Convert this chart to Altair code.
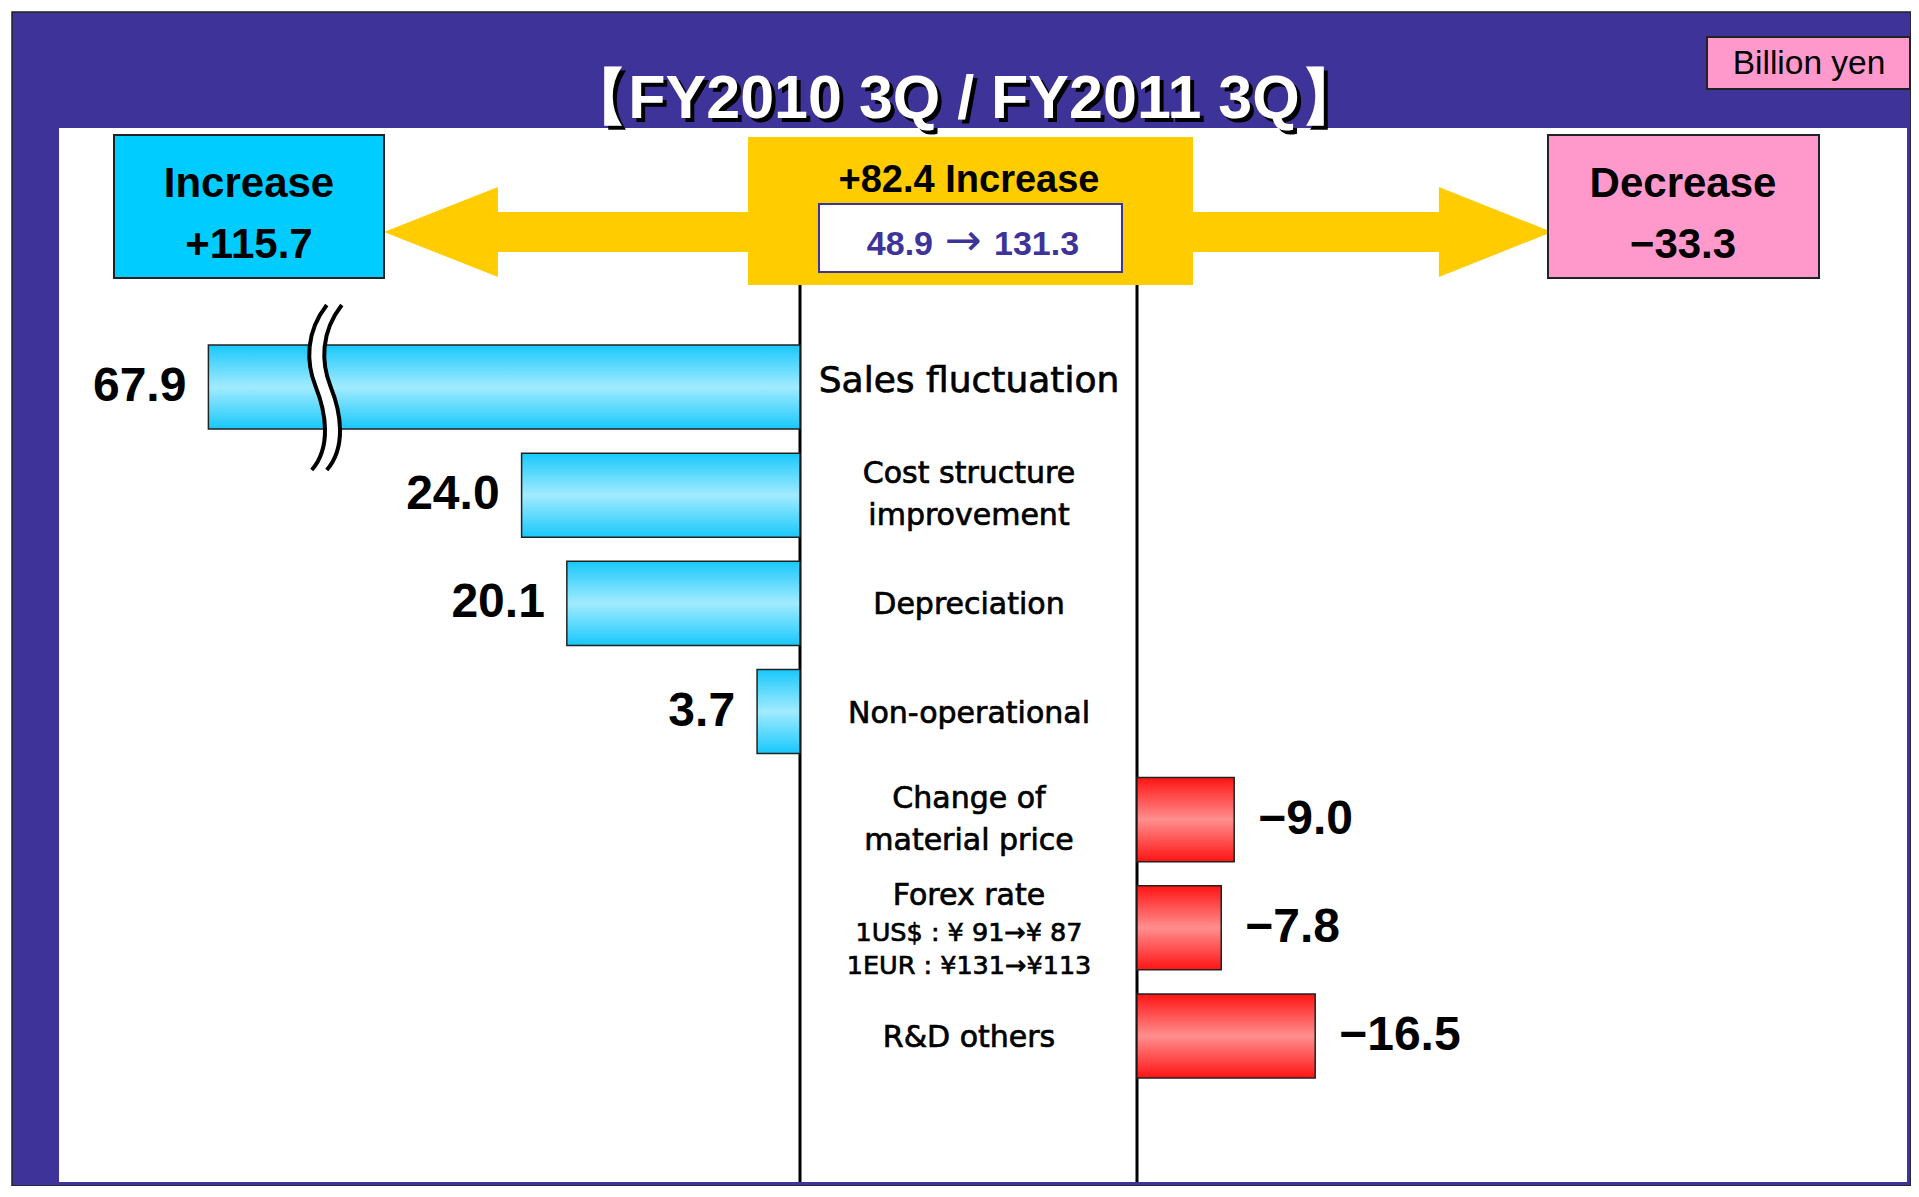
import altair as alt
import pandas as pd

# ---------------- data ----------------
TITLE = "【FY2010 3Q / FY2011 3Q】"
UNIT_LABEL = "Billion yen"

INC_CATEGORIES = ["Sales fluctuation", "Cost structure improvement", "Depreciation", "Non-operational"]
INC_LABELS = ["Sales fluctuation", "Cost structure\nimprovement", "Depreciation", "Non-operational"]
INC_VALUES = [67.9, 24.0, 20.1, 3.7]

DEC_CATEGORIES = ["Change of material price", "Forex rate", "R&D others"]
DEC_LABELS = ["Change of\nmaterial price", "Forex rate", "R&D others"]
DEC_VALUES = [-9.0, -7.8, -16.5]

FOREX_NOTES = ["1US$ : ¥ 91→¥ 87", "1EUR : ¥131→¥113"]

TOTAL_INCREASE = 115.7
TOTAL_DECREASE = -33.3
PROFIT_FROM = 48.9
PROFIT_TO = 131.3
NET_CHANGE = 82.4

# axis break of the longest bar (display cap) and position of the break mark
BROKEN_BAR_CAP = 51.0
BREAK_MARK_AT = 41.4

ALL_CATEGORIES = INC_CATEGORIES + DEC_CATEGORIES

# ---------------- layout / style ----------------
W, H = 1903, 1178
PURPLE = "#3e3399"
YELLOW = "#ffcc00"
CYAN = "#00ccff"
PINK = "#ff99cc"
SANS = "Liberation Sans"
GOTHIC = "DejaVu Sans"

LEFT = alt.Scale(domain=[0, 10], range=[792, 792 - 116], nice=False, zero=True)
RIGHT = alt.Scale(domain=[0, 10], range=[1129, 1129 + 108], nice=False, zero=True)
YS = alt.Scale(domain=ALL_CATEGORIES, range=[337, 1070], paddingInner=0.2225, paddingOuter=0)

BLUE_GRAD = alt.Gradient(
    gradient="linear", x1=0, x2=0, y1=0, y2=1,
    stops=[alt.GradientStop(color="#18c8fb", offset=0),
           alt.GradientStop(color="#a2ebff", offset=0.5),
           alt.GradientStop(color="#18c8fb", offset=1)])
RED_GRAD = alt.Gradient(
    gradient="linear", x1=0, x2=0, y1=0, y2=1,
    stops=[alt.GradientStop(color="#ff1414", offset=0),
           alt.GradientStop(color="#ff8e8e", offset=0.5),
           alt.GradientStop(color="#ff1414", offset=1)])

one = pd.DataFrame({"k": [0]})


def box(x1, y1, x2, y2, fill, stroke=None, sw=0):
    kw = dict(fill=fill, strokeWidth=sw)
    if stroke:
        kw["stroke"] = stroke
    return alt.Chart(one).mark_rect(**kw).encode(
        x=alt.value(x1), x2=alt.value(x2), y=alt.value(y1), y2=alt.value(y2))


def label(txt, x, y, size, font=SANS, weight="normal", color="black", baseline="alphabetic",
          align="center"):
    return alt.Chart(one).mark_text(
        text=txt, font=font, fontSize=size, fontWeight=weight, color=color,
        align=align, baseline=baseline).encode(x=alt.value(x), y=alt.value(y))


def fmt(v, sign=True):
    s = f"{abs(v):.1f}"
    if v < 0:
        return "−" + s
    return ("+" + s) if sign else s


GOTHIC_TEXT = dict(font=GOTHIC, align="center", color="black", stroke="black", strokeWidth=0.7)

layers = []

# frame
layers.append(box(4, 4, W, H, PURPLE, "#222222", 1.5))
layers.append(box(51, 120, 1899, 1174, "white"))

# title with drop shadow
layers.append(label(TITLE, 960, 114, 61, weight="bold", color="black"))
layers.append(label(TITLE, 956, 110, 61, weight="bold", color="white"))

# unit box
layers.append(box(1699, 29, 1902, 81, PINK, "#222222", 2))
layers.append(label(UNIT_LABEL, 1801, 56, 33.5, baseline="middle"))

# arrows
LEFT_ARROW = "M -1 0 L -0.374 -0.247 L -0.374 -0.11 L 1 -0.11 L 1 0.11 L -0.374 0.11 L -0.374 0.247 Z"
RIGHT_ARROW = "M 1 0 L 0.37 -0.251 L 0.37 -0.111 L -1 -0.111 L -1 0.111 L 0.37 0.111 L 0.37 0.251 Z"
layers.append(alt.Chart(one).mark_point(shape=LEFT_ARROW, size=364 ** 2, filled=True, color=YELLOW,
                                        opacity=1, strokeWidth=0).encode(x=alt.value(558), y=alt.value(224)))
layers.append(alt.Chart(one).mark_point(shape=RIGHT_ARROW, size=359 ** 2, filled=True, color=YELLOW,
                                        opacity=1, strokeWidth=0).encode(x=alt.value(1364.5), y=alt.value(224)))

# header boxes
layers.append(box(740, 129, 1185, 277, YELLOW))
layers.append(box(811, 196, 1114, 264, "white", PURPLE, 2))
layers.append(label(f"{fmt(NET_CHANGE)} Increase", 961, 184, 38, weight="bold"))
layers.append(label(fmt(PROFIT_FROM, False), 925, 247, 34, weight="bold", color=PURPLE, align="right"))
layers.append(label("→", 955, 247, 44, font=GOTHIC, color=PURPLE))
layers.append(label(fmt(PROFIT_TO, False), 986, 247, 34, weight="bold", color=PURPLE, align="left"))

layers.append(box(106, 127, 376, 270, CYAN, "#222222", 2))
layers.append(label("Increase", 241, 189, 42, weight="bold"))
layers.append(label(fmt(TOTAL_INCREASE), 241, 250, 42, weight="bold"))

layers.append(box(1540, 127, 1811, 270, PINK, "#222222", 2))
layers.append(label("Decrease", 1675, 189, 42, weight="bold"))
layers.append(label(fmt(TOTAL_DECREASE), 1675, 250, 42, weight="bold"))

# zero lines of both bar scales
layers.append(alt.Chart(one).mark_rule(color="black", strokeWidth=3).encode(
    x=alt.XDatum(0, type="quantitative", scale=LEFT, axis=None),
    y=alt.value(277), y2=alt.value(1174)))
layers.append(alt.Chart(one).mark_rule(color="black", strokeWidth=3).encode(
    x=alt.XDatum(0, type="quantitative", scale=RIGHT, axis=None),
    y=alt.value(277), y2=alt.value(1174)))

# increase bars (left)
inc_df = pd.DataFrame({"category": INC_CATEGORIES, "value": INC_VALUES})
inc_base = alt.Chart(inc_df).transform_calculate(
    disp=f"min(datum.value, {BROKEN_BAR_CAP})",
    label="format(datum.value, '.1f')")
layers.append(inc_base.mark_bar(fill=BLUE_GRAD, stroke="#222222", strokeWidth=1.5).encode(
    x=alt.X("disp:Q", scale=LEFT, axis=None, stack=None),
    y=alt.Y("category:N", scale=YS, axis=None, sort=None)))
layers.append(inc_base.mark_text(align="right", baseline="middle", dx=-22, font=SANS,
                                 fontWeight="bold", fontSize=48, color="black").encode(
    x=alt.X("disp:Q", scale=LEFT, axis=None),
    y=alt.Y("category:N", scale=YS, axis=None, sort=None),
    text="label:N"))

# axis break mark on the longest bar
BREAK_BAND = ("M 0.085 -0.994 C -0.17 -0.667 -0.17 -0.303 -0.048 0 C 0.073 0.303 0.145 0.727 -0.097 1.006 "
              "L 0.085 1.006 C 0.327 0.727 0.255 0.303 0.133 0 C 0.012 -0.303 0.012 -0.667 0.267 -0.994 Z")
BREAK_LINES = ("M 0.085 -0.994 C -0.17 -0.667 -0.17 -0.303 -0.048 0 C 0.073 0.303 0.145 0.727 -0.097 1.006 "
               "M 0.267 -0.994 C 0.012 -0.667 0.012 -0.303 0.133 0 C 0.255 0.303 0.327 0.727 0.085 1.006")
brk_df = pd.DataFrame({"category": [INC_CATEGORIES[0]], "pos": [BREAK_MARK_AT]})
layers.append(alt.Chart(brk_df).mark_point(shape=BREAK_BAND, size=165 ** 2, filled=True, color="white",
                                           opacity=1, strokeWidth=0).encode(
    x=alt.X("pos:Q", scale=LEFT, axis=None),
    y=alt.Y("category:N", scale=YS, axis=None, sort=None)))
layers.append(alt.Chart(brk_df).mark_point(shape=BREAK_LINES, size=165 ** 2, filled=False, color="black",
                                           opacity=1, strokeWidth=4).encode(
    x=alt.X("pos:Q", scale=LEFT, axis=None),
    y=alt.Y("category:N", scale=YS, axis=None, sort=None)))

# decrease bars (right)
dec_df = pd.DataFrame({"category": DEC_CATEGORIES, "value": DEC_VALUES})
dec_base = alt.Chart(dec_df).transform_calculate(
    mag="abs(datum.value)",
    label="'−' + format(abs(datum.value), '.1f')")
layers.append(dec_base.mark_bar(fill=RED_GRAD, stroke="#222222", strokeWidth=1.5).encode(
    x=alt.X("mag:Q", scale=RIGHT, axis=None, stack=None),
    y=alt.Y("category:N", scale=YS, axis=None, sort=None)))
layers.append(dec_base.mark_text(align="left", baseline="middle", dx=24, font=SANS,
                                 fontWeight="bold", fontSize=48, color="black").encode(
    x=alt.X("mag:Q", scale=RIGHT, axis=None),
    y=alt.Y("category:N", scale=YS, axis=None, sort=None),
    text="label:N"))

# centre column labels
mid_df = pd.DataFrame({"category": INC_CATEGORIES + DEC_CATEGORIES, "label": INC_LABELS + DEC_LABELS})
mid = alt.Chart(mid_df)
ycat = alt.Y("category:N", scale=YS, axis=None, sort=None)
layers.append(mid.transform_filter("datum.category == 'Sales fluctuation'").mark_text(
    fontSize=36, baseline="middle", dy=-6, **GOTHIC_TEXT).encode(
    x=alt.value(961), y=ycat, text="label:N"))
layers.append(mid.transform_filter(
    "indexof(datum.label, '\\n') < 0 && datum.category != 'Sales fluctuation' && datum.category != 'Forex rate'"
).mark_text(fontSize=30, baseline="middle", dy=2, **GOTHIC_TEXT).encode(
    x=alt.value(961), y=ycat, text="label:N"))
layers.append(mid.transform_filter("indexof(datum.label, '\\n') >= 0").mark_text(
    fontSize=30, baseline="middle", lineBreak="\n", lineHeight=42, dy=-21, **GOTHIC_TEXT).encode(
    x=alt.value(961), y=ycat, text="label:N"))
layers.append(mid.transform_filter("datum.category == 'Forex rate'").mark_text(
    fontSize=30, baseline="middle", dy=-32, **GOTHIC_TEXT).encode(
    x=alt.value(961), y=ycat, text="label:N"))
fx_df = pd.DataFrame({"category": ["Forex rate"], "note": ["\n".join(FOREX_NOTES)]})
layers.append(alt.Chart(fx_df).mark_text(
    fontSize=25.5, baseline="middle", lineBreak="\n", lineHeight=33, dy=5, **GOTHIC_TEXT).encode(
    x=alt.value(961), y=ycat, text="note:N"))

chart = alt.layer(*layers).resolve_scale(x="independent").properties(
    width=W, height=H, autosize=alt.AutoSizeParams(type="none"), padding=0, background="white"
).configure_view(strokeWidth=0)

chart.save("out.html", embed_options={"renderer": "svg", "actions": False})
